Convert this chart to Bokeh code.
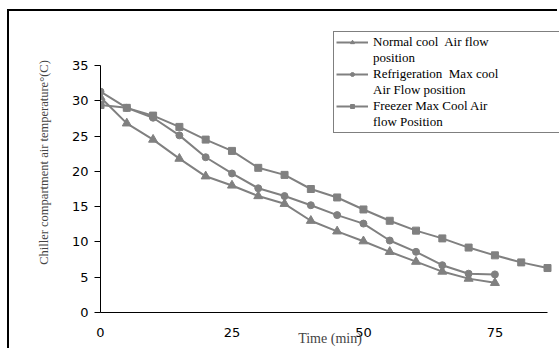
from bokeh.plotting import figure
from bokeh.models import Legend, LegendItem, FixedTicker, Range1d
from bokeh.embed import file_html
from bokeh.resources import INLINE

# ---- data ----
time_normal = [0, 5, 10, 15, 20, 25, 30, 35, 40, 45, 50, 55, 60, 65, 70, 75]
temp_normal = [30.5, 26.8, 24.5, 21.8, 19.3, 18.0, 16.5, 15.4, 13.0, 11.5, 10.1, 8.6, 7.2, 5.8, 4.8, 4.2]

time_refrig = [0, 5, 10, 15, 20, 25, 30, 35, 40, 45, 50, 55, 60, 65, 70, 75]
temp_refrig = [31.3, 29.0, 27.6, 25.1, 22.0, 19.7, 17.6, 16.5, 15.2, 13.8, 12.6, 10.2, 8.6, 6.7, 5.5, 5.4]

time_freezer = [0, 5, 10, 15, 20, 25, 30, 35, 40, 45, 50, 55, 60, 65, 70, 75, 80, 85]
temp_freezer = [29.4, 29.0, 27.9, 26.3, 24.5, 22.9, 20.5, 19.5, 17.5, 16.3, 14.6, 13.0, 11.6, 10.5, 9.2, 8.1, 7.1, 6.3]

# legend labels, one list per series (first line, continuation line)
labels = [
    ["Normal cool  Air flow", "position"],
    ["Refrigeration  Max cool", "Air Flow position"],
    ["Freezer Max Cool Air", "flow Position"],
]
x_ticks = [0, 25, 50, 75]
y_ticks = [0, 5, 10, 15, 20, 25, 30, 35]
x_axis_max = 85
y_axis_max = 35

GRAY = "#808080"

# layout (page pixels): figure host starts at (9, 11) after the outer border
FIG_X0, FIG_Y0 = 9, 11
FRAME_L, FRAME_R, FRAME_T, FRAME_B = 100, 559, 12, 312
AXIS_R, AXIS_T = 547, 65   # where x=85 and y=35 sit

x_end = x_axis_max * (FRAME_R - FRAME_L) / (AXIS_R - FRAME_L)
y_end = y_axis_max * (FRAME_B - FRAME_T) / (FRAME_B - AXIS_T)

p = figure(
    width=559 - FIG_X0, height=350 - FIG_Y0,
    output_backend="svg", toolbar_location=None,
    x_range=Range1d(0, x_end), y_range=Range1d(0, y_end),
    min_border_left=FRAME_L - FIG_X0, min_border_right=0,
    min_border_top=FRAME_T - FIG_Y0, min_border_bottom=350 - FRAME_B,
    styles={"border-left": "2px solid #000", "border-top": "2px solid #000",
            "margin-left": "7px", "margin-top": "9px"},
)
p.outline_line_color = None
p.grid.visible = False

r1 = p.line(time_normal, temp_normal, line_color=GRAY, line_width=2)
m1 = p.scatter(time_normal, temp_normal, marker="triangle", size=9, fill_color=GRAY, line_color=GRAY)
r2 = p.line(time_refrig, temp_refrig, line_color=GRAY, line_width=2)
m2 = p.scatter(time_refrig, temp_refrig, marker="circle", size=7, fill_color=GRAY, line_color=GRAY)
r3 = p.line(time_freezer, temp_freezer, line_color=GRAY, line_width=2)
m3 = p.scatter(time_freezer, temp_freezer, marker="square", size=7, fill_color=GRAY, line_color=GRAY)
# invisible renderer used for the legend's continuation lines
blank = p.line(x=[], y=[], line_alpha=0)

# axes
xa = p.xaxis[0]
xa.ticker = FixedTicker(ticks=x_ticks)
xa.bounds = (0, x_axis_max)
xa.major_tick_out = 0
xa.major_tick_in = 0
xa.minor_tick_out = 0
xa.minor_tick_in = 0
xa.major_label_standoff = 15
xa.major_label_text_font = "DejaVu Sans"
xa.major_label_text_font_size = "13px"
xa.major_label_text_color = "#000000"
xa.axis_line_color = "#000000"
xa.axis_label = "Time (min)"
xa.axis_label_text_font = "Liberation Serif"
xa.axis_label_text_font_style = "normal"
xa.axis_label_text_font_size = "14px"
xa.axis_label_standoff = -9

ya = p.yaxis[0]
ya.ticker = FixedTicker(ticks=y_ticks)
ya.bounds = (0, y_axis_max)
ya.major_tick_out = 6
ya.major_tick_in = 0
ya.minor_tick_out = 0
ya.minor_tick_in = 0
ya.major_label_standoff = 6
ya.major_label_text_font = "DejaVu Sans"
ya.major_label_text_font_size = "13px"
ya.major_label_text_color = "#000000"
ya.axis_line_color = "#000000"
ya.major_tick_line_color = "#000000"
ya.axis_label = "Chiller compartment air temperature\u00b0(C)"
ya.axis_label_text_font = "Liberation Serif"
ya.axis_label_text_font_style = "normal"
ya.axis_label_text_font_size = "12.5px"
ya.axis_label_standoff = 18

items = []
for (first, second), rend in zip(labels, [[r1, m1], [r2, m2], [r3, m3]]):
    items.append(LegendItem(label=first, renderers=rend))
    items.append(LegendItem(label=second, renderers=[blank]))

legend = Legend(
    items=items,
    location=(233, 179),
    orientation="vertical",
    label_text_font="Liberation Serif",
    label_text_font_size="13px",
    label_text_color="#000000",
    label_standoff=5,
    label_width=200,
    label_height=10,
    glyph_width=32,
    glyph_height=10,
    spacing=0,
    padding=2,
    margin=0,
    border_line_color="#000000",
    border_line_width=1,
    background_fill_alpha=1.0,
)
p.add_layout(legend, "center")

open("out.html", "w").write(file_html(p, INLINE))
